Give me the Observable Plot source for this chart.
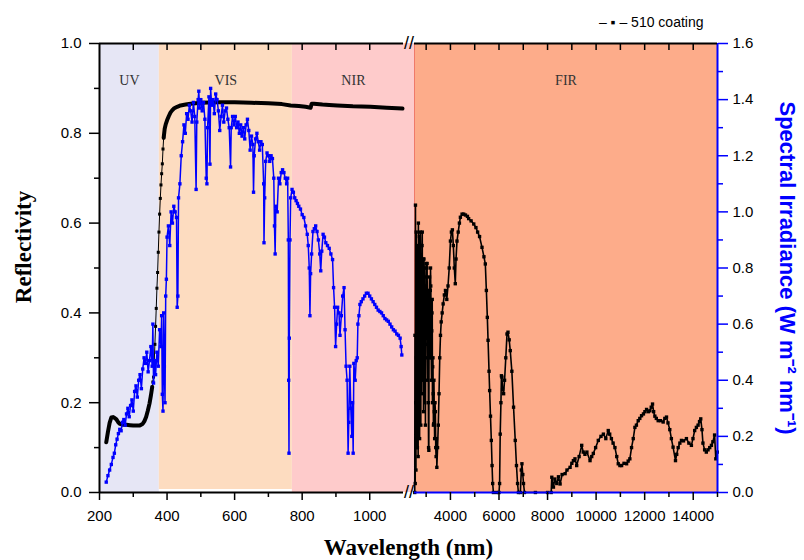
<!DOCTYPE html>
<html><head><meta charset="utf-8">
<script src="https://cdn.jsdelivr.net/npm/d3@7"></script>
<script src="https://cdn.jsdelivr.net/npm/@observablehq/plot@0.6"></script>
<style>
body{margin:0;background:#fff;}
#chart{width:804px;height:560px;}
</style></head><body><div id="chart"></div>
<script>
// ---- data ----
const bandNames = ["UV", "VIS", "NIR", "FIR"];
const bandStart = [200, 377, 771, 2520];
const bandEnd = [377, 771, 2520, 15000];
const bandColors = ["#e6e6f5", "#fddcc0", "#fecbcb", "#fdac8a"];

// 510 coating reflectivity (left panel)
const coatWl = [220,225,230,235,240,245,250,255,260,270,280,290,300,310,318,324,328,333,338,343,348,352,356,358,360,362,364,366,368,370,372,374,376,378,380,382,384,386,388,390,393,396,400,405,410,415,420,430,440,455,470,500,550,600,650,700,740,766,790,810,825,828,835,860,880,904,950,1002,1050,1097];
const coatRefl = [0.112,0.135,0.155,0.167,0.168,0.166,0.163,0.157,0.153,0.151,0.151,0.150,0.149,0.149,0.149,0.151,0.153,0.159,0.168,0.182,0.198,0.215,0.235,0.246,0.257,0.29,0.33,0.37,0.41,0.455,0.49,0.535,0.58,0.62,0.655,0.685,0.71,0.732,0.765,0.79,0.81,0.82,0.829,0.838,0.846,0.851,0.855,0.859,0.862,0.864,0.866,0.868,0.869,0.869,0.868,0.867,0.865,0.862,0.861,0.859,0.857,0.866,0.866,0.864,0.863,0.862,0.860,0.859,0.857,0.855];

// far-infrared curve (right panel, read on the left axis)
const firWl = [2530,2540,2550,2560,2570,2580,2590,2600,2610,2620,2630,2640,2650,2660,2670,2680,2690,2700,2710,2720,2730,2740,2750,2760,2770,2780,2790,2800,2810,2820,2830,2840,2850,2860,2870,2880,2890,2900,2910,2920,2930,2940,2950,2960,2970,2980,2990,3000,3010,3020,3030,3040,3050,3060,3070,3080,3090,3100,3110,3120,3130,3140,3150,3160,3170,3180,3190,3200,3210,3220,3230,3240,3250,3260,3270,3280,3290,3300,3310,3320,3335,3350,3365,3380,3395,3410,3425,3440,3470,3500,3530,3560,3590,3620,3660,3700,3750,3795,3850,3900,3950,4000,4040,4080,4120,4160,4200,4230,4270,4320,4370,4410,4480,4547,4620,4700,4750,4850,4960,5050,5120,5200,5300,5380,5437,5480,5520,5550,5590,5615,5650,5685,5715,5740,5770,5900,6000,6025,6050,6080,6100,6120,6150,6190,6230,6280,6330,6370,6420,6464,6530,6600,6670,6720,6765,6800,6880,6920,6945,6980,7010,7050,7500,8000,8150,8175,8243,8300,8380,8450,8517,8600,8723,8800,8928,9000,9064,9130,9200,9300,9407,9470,9540,9620,9750,9820,9885,9980,10090,10200,10300,10400,10500,10560,10630,10700,10776,10850,10912,10980,11050,11150,11256,11320,11390,11460,11530,11598,11660,11735,11800,11872,11950,12010,12078,12150,12215,12270,12324,12370,12420,12480,12557,12650,12762,12830,12900,12960,13035,13100,13170,13270,13320,13380,13450,13515,13600,13720,13820,13925,13990,14060,14130,14200,14260,14310,14360,14400,14470,14540,14610,14680,14750,14810,14880,14930,14990];
const firVal = [0.0,0.35,0.02,0.64,0.20,0.05,0.58,0.30,0.10,0.55,0.40,0.10,0.52,0.45,0.08,0.60,0.35,0.20,0.50,0.57,0.12,0.35,0.55,0.58,0.30,0.15,0.45,0.50,0.22,0.40,0.55,0.58,0.35,0.25,0.48,0.52,0.18,0.38,0.52,0.50,0.30,0.20,0.40,0.46,0.15,0.30,0.48,0.51,0.35,0.42,0.50,0.51,0.33,0.25,0.42,0.45,0.20,0.10,0.094,0.35,0.44,0.48,0.38,0.30,0.45,0.50,0.46,0.42,0.30,0.25,0.36,0.40,0.43,0.20,0.28,0.30,0.22,0.15,0.153,0.25,0.18,0.12,0.20,0.18,0.10,0.08,0.12,0.056,0.10,0.15,0.22,0.30,0.35,0.38,0.40,0.42,0.44,0.45,0.43,0.46,0.50,0.56,0.58,0.585,0.55,0.50,0.465,0.52,0.56,0.58,0.60,0.613,0.62,0.62,0.618,0.615,0.61,0.605,0.598,0.59,0.58,0.57,0.546,0.525,0.509,0.45,0.39,0.339,0.27,0.227,0.17,0.116,0.06,0.02,0.0,0.0,0.0,0.02,0.13,0.20,0.26,0.257,0.23,0.22,0.25,0.30,0.353,0.357,0.34,0.316,0.27,0.19,0.116,0.06,0.02,0.0,0.0,0.05,0.064,0.04,0.02,0.0,0.0,0.0,0.0,0.034,0.012,0.03,0.02,0.035,0.019,0.04,0.042,0.05,0.056,0.065,0.071,0.075,0.06,0.08,0.105,0.09,0.085,0.09,0.071,0.08,0.087,0.10,0.116,0.125,0.13,0.12,0.138,0.13,0.12,0.11,0.10,0.08,0.064,0.06,0.06,0.065,0.064,0.07,0.075,0.10,0.12,0.145,0.15,0.16,0.165,0.171,0.175,0.18,0.185,0.18,0.182,0.19,0.197,0.18,0.17,0.165,0.16,0.16,0.157,0.165,0.168,0.155,0.14,0.12,0.101,0.071,0.085,0.10,0.11,0.116,0.115,0.12,0.11,0.105,0.12,0.138,0.145,0.15,0.158,0.164,0.14,0.11,0.095,0.09,0.095,0.10,0.105,0.113,0.128,0.075,0.09];

// solar spectral irradiance (W m-2 nm-1, right axis)
const blueWl = [220,225,230,235,240,244,248,252,256,260,264,268,272,276,280,284,288,292,296,300,304,308,312,316,320,324,328,332,336,340,344,348,352,356,358,360,363,366,370,374,378,382,384,386,388,390,392,394,396,398,400,404,408,412,416,420,424,428,430,432,434,438,442,446,450,454,458,462,466,470,474,478,482,486,488,492,494,496,500,504,508,512,516,518,520,524,527,529,532,536,540,544,548,552,556,560,564,568,572,576,580,584,588,590,594,598,602,606,610,614,618,622,626,630,634,638,642,646,650,654,656,658,662,666,670,674,678,682,686,687,689,692,696,700,704,708,712,716,718,720,722,726,730,734,738,742,746,750,754,757,759,760,761,762,764,766,770,774,778,782,786,790,795,800,805,810,815,818,821,823,825,828,832,836,840,844,848,852,855,858,862,866,870,875,880,885,890,893,896,899,902,905,909,912,916,920,924,927,930,933,936,938,941,944,947,949,951,953,957,960,963,965,968,971,975,980,985,990,995,1000,1005,1010,1015,1020,1025,1030,1035,1040,1045,1050,1055,1060,1065,1070,1075,1080,1085,1090,1093,1095];
const blueIrr = [0.037,0.06,0.08,0.10,0.125,0.14,0.17,0.19,0.21,0.225,0.22,0.25,0.26,0.24,0.28,0.30,0.27,0.31,0.33,0.29,0.36,0.38,0.34,0.40,0.42,0.37,0.44,0.48,0.46,0.50,0.43,0.47,0.52,0.45,0.60,0.39,0.47,0.42,0.50,0.45,0.58,0.52,0.63,0.35,0.29,0.64,0.45,0.32,0.70,0.76,0.91,0.95,0.88,1.00,0.96,1.02,1.00,0.98,0.66,0.70,1.05,1.10,1.20,1.25,1.31,1.28,1.35,1.33,1.38,1.36,1.32,1.39,1.34,1.08,1.32,1.40,1.43,1.37,1.40,1.36,1.39,1.33,1.12,1.10,1.30,1.41,1.17,1.44,1.38,1.40,1.35,1.42,1.40,1.36,1.29,1.34,1.38,1.32,1.36,1.37,1.33,1.30,1.16,1.30,1.34,1.31,1.34,1.30,1.32,1.28,1.31,1.27,1.30,1.26,1.31,1.33,1.29,1.22,1.27,1.24,1.07,1.20,1.26,1.28,1.25,1.22,1.25,1.24,1.10,0.89,1.05,1.18,1.21,1.20,1.18,1.20,1.19,1.12,0.95,0.85,1.02,1.00,1.12,1.10,1.14,1.15,1.14,1.12,1.10,1.12,0.90,0.40,0.14,0.55,0.90,1.05,1.08,1.07,1.05,1.04,1.03,1.02,1.01,0.99,0.98,0.95,0.92,0.88,0.80,0.63,0.78,0.85,0.93,0.94,0.95,0.93,0.90,0.85,0.79,0.86,0.92,0.91,0.89,0.88,0.87,0.85,0.83,0.73,0.66,0.52,0.60,0.66,0.64,0.56,0.63,0.70,0.73,0.58,0.45,0.40,0.14,0.25,0.45,0.30,0.20,0.32,0.14,0.46,0.40,0.47,0.48,0.60,0.63,0.67,0.68,0.69,0.70,0.71,0.71,0.70,0.69,0.68,0.67,0.66,0.65,0.645,0.64,0.63,0.62,0.615,0.61,0.60,0.59,0.58,0.575,0.565,0.56,0.55,0.52,0.49];

// axes
const xBreak = [200, 1100, 2520, 15000];
const xMajor = [200, 400, 600, 800, 1000, 4000, 6000, 8000, 10000, 12000, 14000];
const xMinor = [300, 500, 700, 900, 3000, 5000, 7000, 9000, 11000, 13000, 15000];
const xTop = [300, 400, 500, 600, 700, 800, 900, 1000, 3000, 4000, 5000, 6000, 7000, 8000, 9000, 10000, 11000, 12000, 13000, 14000];
const reflTicks = [0, 0.2, 0.4, 0.6, 0.8, 1.0];
const reflMinor = [0.1, 0.3, 0.5, 0.7, 0.9];
const irrMax = 1.6;
const irrTicks = [0, 0.2, 0.4, 0.6, 0.8, 1.0, 1.2, 1.4, 1.6];
const irrMinor = [0.1, 0.3, 0.5, 0.7, 0.9, 1.1, 1.3, 1.5];

// ---- build ----
const bands = bandNames.map((n, i) => ({name: n, start: bandStart[i], end: bandEnd[i], color: bandColors[i]}));
const coat = coatWl.map((w, i) => ({w, r: coatRefl[i]}));
const fir = firWl.map((w, i) => ({w, r: firVal[i]}));
const blue = blueWl.map((w, i) => ({w, v: blueIrr[i] / irrMax}));

const W = 804, H = 560, mL = 99, mR = 87, mT = 43, mB = 68;
const xRange = [mL, 403, 414, W - mR];
const px = d3.scaleLinear(xBreak, xRange);
const bandMid = b => px.invert((px(b.start) + px(b.end)) / 2);
const gapMid = (xBreak[1] + xBreak[2]) / 2;
const steepLo = 356, steepHi = 390;

const sans = "Liberation Sans, Arial, sans-serif";
const serif = "Liberation Serif, Times New Roman, serif";

const chart = Plot.plot({
  width: W, height: H,
  marginLeft: mL, marginRight: mR, marginTop: mT, marginBottom: mB,
  style: {fontFamily: sans, fontSize: "15px", background: "#fff", color: "#000"},
  x: {type: "linear", domain: xBreak, range: xRange},
  y: {domain: [0, 1]},
  marks: [
    Plot.rect(bands.filter(b => b.name !== "VIS"), {x1: "start", x2: "end", fill: "color"}),
    Plot.rect(bands.filter(b => b.name === "VIS"), {x1: "start", x2: "end", fill: "color", insetBottom: 3}),
    Plot.ruleX([xBreak[2]], {stroke: "#f07a6a", strokeWidth: 1}),
    Plot.text(bands, {x: b => bandMid(b), frameAnchor: "top", dy: 32, text: "name", fontFamily: serif, fontSize: 14, fill: "#333"}),
    // coating curve
    Plot.line(coat, {x: "w", y: d => (d.w > steepLo && d.w < steepHi) ? NaN : d.r, stroke: "#000", strokeWidth: 4}),
    Plot.line(coat.filter(d => d.w >= steepLo && d.w <= steepHi), {x: "w", y: "r", stroke: "#000", strokeWidth: 1}),
    Plot.dot(coat.filter(d => d.w >= steepLo && d.w <= steepHi), {x: "w", y: "r", symbol: "square", r: 1.7, fill: "#000", stroke: null}),
    // FIR curve
    Plot.line(fir, {x: "w", y: "r", stroke: "#000", strokeWidth: 1.6}),
    Plot.dot(fir, {x: "w", y: "r", symbol: "square", r: 1.9, fill: "#000", stroke: null}),
    // solar irradiance
    Plot.line(blue, {x: "w", y: "v", stroke: "#0000ff", strokeWidth: 1.5}),
    Plot.dot(blue, {x: "w", y: "v", symbol: "square", r: 1.9, fill: "#0000ff", stroke: null}),
    // frame lines
    Plot.ruleX([xBreak[0]], {stroke: "#000", strokeWidth: 2}),
    Plot.ruleX([xBreak[3]], {stroke: "#0000ff", strokeWidth: 2}),
    Plot.ruleY([1], {x1: xBreak[0], x2: xBreak[1], stroke: "#000", strokeWidth: 2}),
    Plot.ruleY([1], {x1: xBreak[2], x2: xBreak[3], stroke: "#000", strokeWidth: 2}),
    Plot.ruleY([0], {x1: xBreak[0], x2: xBreak[1], stroke: "#000", strokeWidth: 2}),
    Plot.ruleY([0], {x1: xBreak[2], x2: xBreak[3], stroke: "#0000ff", strokeWidth: 2}),
    Plot.text(["//", "//"], {x: gapMid, y: (d, i) => i, text: d => d, fontSize: 18, fontFamily: sans, fill: "#000"}),
    // axes
    Plot.axisX({anchor: "bottom", ticks: xMajor, tickSize: 8, tickPadding: 10, tickFormat: d => String(d), fontSize: 15, strokeWidth: 1.5}),
    Plot.axisX({anchor: "bottom", ticks: xMinor, tickSize: 5, tickFormat: () => "", strokeWidth: 1.5}),
    Plot.axisX({anchor: "top", ticks: xTop, tickSize: -6, tickFormat: () => "", strokeWidth: 1.5}),
    Plot.axisY({anchor: "left", ticks: reflTicks, tickSize: 10, tickPadding: 8, tickFormat: d => d.toFixed(1), fontSize: 15, strokeWidth: 1.5}),
    Plot.axisY({anchor: "left", ticks: reflMinor, tickSize: 5, tickFormat: () => "", strokeWidth: 1.5}),
    Plot.axisY({anchor: "right", ticks: irrTicks.map(v => v / irrMax), tickSize: 10, tickPadding: 5, tickFormat: v => (v * irrMax).toFixed(1), stroke: "#0000ff", fill: "#000", fontSize: 15, strokeWidth: 1.5}),
    Plot.axisY({anchor: "right", ticks: irrMinor.map(v => v / irrMax), tickSize: 5, tickFormat: () => "", stroke: "#0000ff", strokeWidth: 1.5}),
    // titles
    Plot.text(["Wavelength (nm)"], {frameAnchor: "bottom", dy: 62, text: d => d, fontFamily: serif, fontWeight: "bold", fontSize: 23, fill: "#000"}),
    Plot.text(["Reflectivity"], {frameAnchor: "left", dx: -76, dy: -21, rotate: -90, textAnchor: "middle", text: d => d, fontFamily: serif, fontWeight: "bold", fontSize: 23, fill: "#000"}),
    Plot.text(["Spectral Irradiance (W m⁻² nm⁻¹)"], {frameAnchor: "right", dx: 70, rotate: 90, textAnchor: "middle", text: d => d, fontFamily: sans, fontWeight: "bold", fontSize: 22, fill: "#0000ff"}),
    // legend
    Plot.text(["– ▪ – 510 coating"], {frameAnchor: "top-right", dx: -14, dy: -26, textAnchor: "end", text: d => d, fontFamily: sans, fontSize: 14, fill: "#000"})
  ]
});
document.getElementById("chart").appendChild(chart);
</script>
</body></html>
